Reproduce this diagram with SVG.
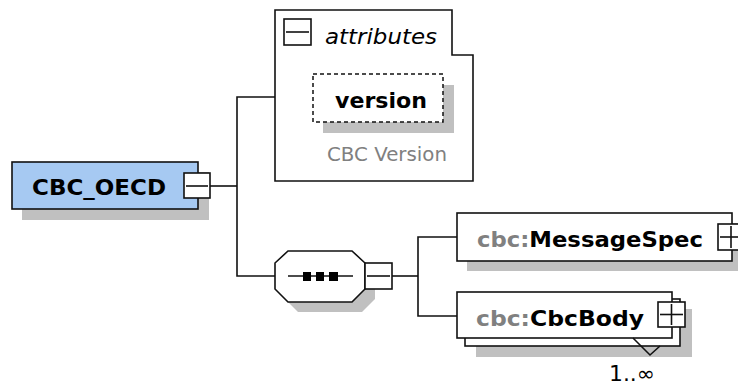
<svg xmlns="http://www.w3.org/2000/svg" width="738" height="390" viewBox="0 0 738 390">
<defs>
<style>
.box{fill:#fff;stroke:#111;stroke-width:1.6}
.sh{fill:#c0c0c0;stroke:none}
.ln{fill:none;stroke:#111;stroke-width:1.6}
.t{font-family:"DejaVu Sans","Liberation Sans",sans-serif;fill:#000}
.b{font-weight:bold}
.g{fill:#808080}
</style>
</defs>
<rect width="738" height="390" fill="#fff"/>
<g id="connectors">
<line class="ln" x1="210" y1="186" x2="237" y2="186"/>
<polyline class="ln" points="275,97 237,97 237,276 275,276"/>
<line class="ln" x1="392" y1="276" x2="418" y2="276"/>
<polyline class="ln" points="457,237 418,237 418,316 457,316"/>
</g>
<g id="node-cbc-oecd">
<rect class="sh" x="22" y="172" width="187" height="48"/>
<rect x="12" y="162" width="186" height="47" fill="#a6c9f2" stroke="#111" stroke-width="1.6"/>
<text class="t b" x="32" y="195" font-size="22" textLength="134" lengthAdjust="spacingAndGlyphs">CBC_OECD</text>
<rect class="box" x="184" y="173" width="26" height="25"/>
<line class="ln" x1="186" y1="186" x2="208" y2="186"/>
</g>
<g id="node-attributes">
<path class="box" d="M275,10 H452 V55 H473 V181 H275 Z"/>
<rect class="box" x="284" y="19" width="27" height="26"/>
<line class="ln" x1="286" y1="32" x2="309" y2="32"/>
<text class="t" x="325" y="44" font-size="22" font-style="italic" textLength="112" lengthAdjust="spacingAndGlyphs">attributes</text>
</g>
<g id="node-version">
<rect class="sh" x="323" y="85" width="131" height="48"/>
<rect x="313" y="74" width="130" height="48" fill="#fff" stroke="#111" stroke-width="1.5" stroke-dasharray="4,3"/>
<text class="t b" x="335" y="108" font-size="22" textLength="92" lengthAdjust="spacingAndGlyphs">version</text>
<text class="t g" x="327" y="161" font-size="19" textLength="120" lengthAdjust="spacingAndGlyphs">CBC Version</text>
</g>
<g id="node-sequence">
<polygon class="sh" points="298,261 362,261 375,273 375,299 362,312 298,312 285,299 285,273"/>
<polygon class="box" points="288,251 352,251 365,263 365,289 352,302 288,302 275,289 275,263"/>
<line class="ln" x1="288" y1="276" x2="353" y2="276"/>
<rect x="303" y="272" width="8" height="9" fill="#000"/>
<rect x="316" y="272" width="8" height="9" fill="#000"/>
<rect x="329" y="272" width="9" height="9" fill="#000"/>
<rect class="box" x="365" y="263" width="27" height="26"/>
<line class="ln" x1="367" y1="276" x2="390" y2="276"/>
</g>
<g id="node-messagespec">
<rect class="sh" x="467" y="223" width="280" height="48"/>
<rect class="box" x="457" y="213" width="275" height="48"/>
<text class="t b" x="477" y="247" font-size="22" textLength="226" lengthAdjust="spacingAndGlyphs"><tspan class="g">cbc:</tspan>MessageSpec</text>
<rect class="box" x="718" y="224" width="27" height="26"/>
<line class="ln" x1="720" y1="237" x2="743" y2="237"/>
<line class="ln" x1="731" y1="226" x2="731" y2="248"/>
</g>
<g id="node-cbcbody">
<rect class="sh" x="476" y="309" width="216" height="48"/>
<rect class="box" x="465" y="299" width="215" height="47"/>
<rect class="box" x="457" y="292" width="215" height="46"/>
<text class="t b" x="476" y="326" font-size="22" textLength="168" lengthAdjust="spacingAndGlyphs"><tspan class="g">cbc:</tspan>CbcBody</text>
<rect class="box" x="658" y="302" width="27" height="25"/>
<line class="ln" x1="660" y1="314.5" x2="683" y2="314.5"/>
<line class="ln" x1="671.5" y1="304" x2="671.5" y2="325"/>
<polyline class="ln" points="633,338 650,355 660,346"/>
<text class="t" x="609" y="381" font-size="21" fill="#222" textLength="46" lengthAdjust="spacingAndGlyphs">1..∞</text>
</g>
</svg>
